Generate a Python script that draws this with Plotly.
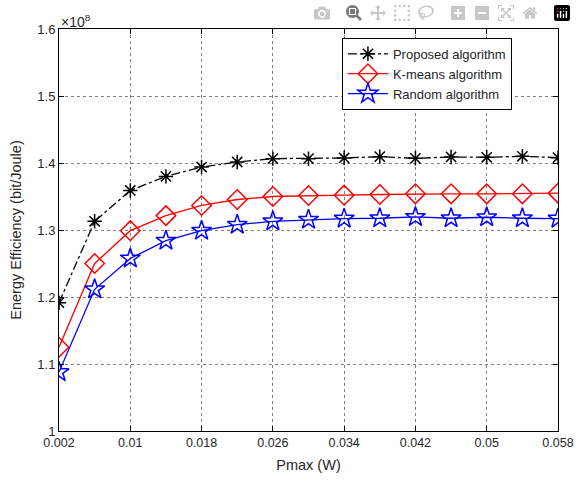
import plotly.graph_objects as go

# Pmax (W)
pmax = [0.002, 0.006, 0.010, 0.014, 0.018, 0.022, 0.026, 0.030,
        0.034, 0.038, 0.042, 0.046, 0.050, 0.054, 0.058]
# Energy efficiency in units of 1e8 bit/Joule
proposed = [1.1915, 1.313, 1.359, 1.380, 1.394, 1.4015, 1.4065, 1.4065,
            1.4075, 1.4095, 1.407, 1.409, 1.4085, 1.4100, 1.408]
kmeans = [1.125, 1.250, 1.299, 1.3215, 1.3366, 1.3455, 1.3500, 1.3515,
          1.3520, 1.3530, 1.3540, 1.3540, 1.3540, 1.3540, 1.3550]
random_alg = [1.088, 1.2115, 1.2575, 1.284, 1.299, 1.308, 1.313, 1.3155,
              1.3170, 1.3175, 1.3195, 1.3175, 1.3190, 1.3175, 1.3170]

x_ticks = [0.002, 0.010, 0.018, 0.026, 0.034, 0.042, 0.050, 0.058]
x_ticktext = ["0.002", "0.01", "0.018", "0.026", "0.034", "0.042", "0.05", "0.058"]
y_ticks = [1.0, 1.1, 1.2, 1.3, 1.4, 1.5, 1.6]
y_ticktext = ["1", "1.1", "1.2", "1.3", "1.4", "1.5", "1.6"]

fig = go.Figure()
fig.add_trace(go.Scatter(
    x=pmax, y=proposed, name="Proposed algorithm", mode="lines+markers",
    line=dict(color="black", width=1.3, dash="dashdot"),
    marker=dict(symbol="asterisk-open", size=12, color="black",
                line=dict(color="black", width=1.5))))
fig.add_trace(go.Scatter(
    x=pmax, y=kmeans, name="K-means algorithm", mode="lines+markers",
    line=dict(color="red", width=1.3),
    marker=dict(symbol="diamond-open", size=15, color="red",
                line=dict(color="red", width=1.5))))
fig.add_trace(go.Scatter(
    x=pmax, y=random_alg, name="Random algorithm", mode="lines+markers",
    line=dict(color="blue", width=1.3),
    marker=dict(symbol="star-open", size=15, color="blue",
                line=dict(color="blue", width=1.5))))

axis_common = dict(
    showline=True, linecolor="black", linewidth=1, mirror="ticks",
    ticks="inside", ticklen=5, tickcolor="black", automargin=False,
    showgrid=True, gridcolor="rgba(0,0,0,0.5)", griddash="dot", gridwidth=1,
    zeroline=False, ticklabeloverflow="allow",
)

fig.update_layout(
    width=576, height=481,
    margin=dict(l=59, r=18, t=29, b=50),
    paper_bgcolor="white", plot_bgcolor="white",
    font=dict(family="Liberation Sans, Arial, sans-serif", color="#262626"),
    xaxis=dict(range=[0.002, 0.058], tickvals=x_ticks, ticktext=x_ticktext,
               tickfont=dict(size=12.5, color="#262626"),
               title=dict(text="Pmax (W)", font=dict(size=14.5), standoff=10),
               **axis_common),
    yaxis=dict(range=[1.0, 1.6], tickvals=y_ticks, ticktext=y_ticktext,
               tickfont=dict(size=13, color="#262626"),
               title=dict(text="Energy Efficiency (bit/Joule)", font=dict(size=14.5), standoff=12),
               **axis_common),
    legend=dict(x=0.567, y=0.978, xanchor="left", yanchor="top",
                bgcolor="white", bordercolor="black", borderwidth=1,
                font=dict(size=13), tracegroupgap=0, itemwidth=40),
    showlegend=True,
)
fig.add_annotation(text="×10<sup>8</sup>", xref="paper", yref="paper",
                   x=0, y=1, xanchor="left", yanchor="bottom",
                   showarrow=False, font=dict(size=14, color="#262626"), yshift=-3)

fig.write_html(
    "out.html",
    post_script=("document.body.style.margin='0';"
                 "document.body.style.overflow='hidden';"
                 "document.documentElement.style.overflow='hidden';"))
